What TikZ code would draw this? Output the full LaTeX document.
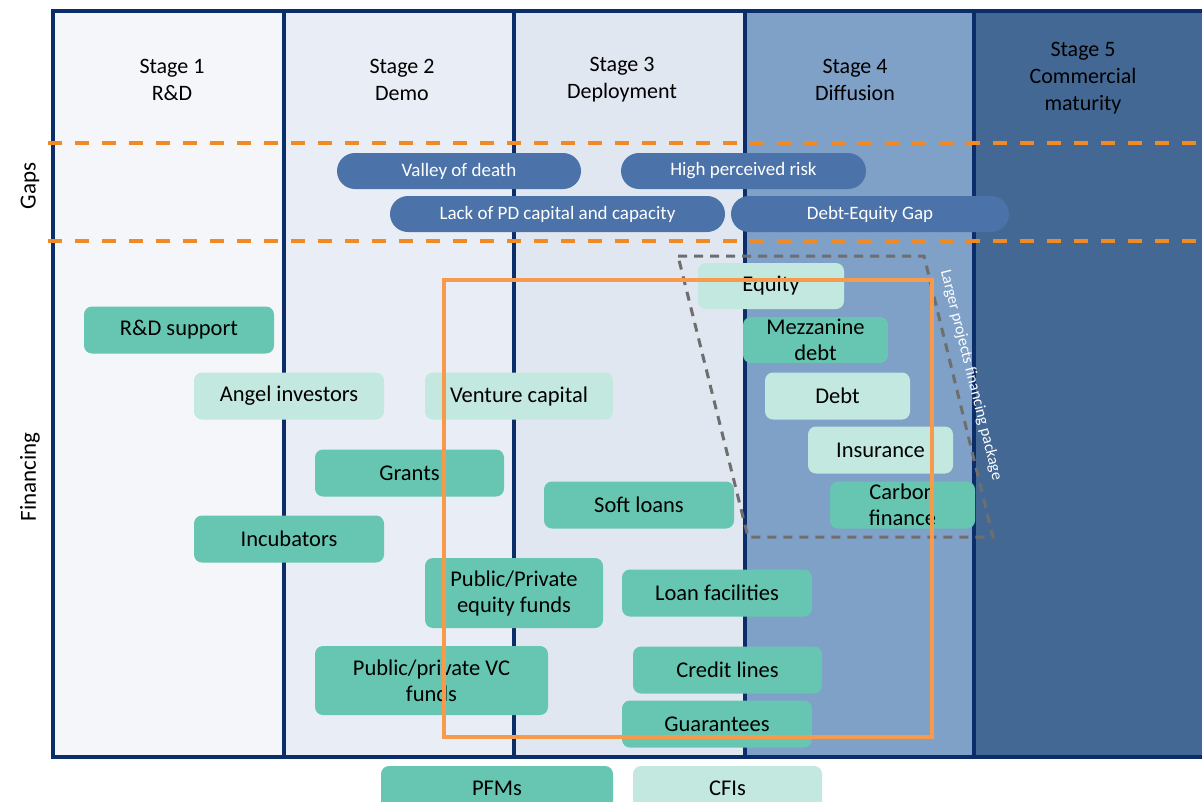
\documentclass[tikz,border=0pt]{standalone}
\usepackage{fontspec}
\setmainfont{Carlito}
\usetikzlibrary{shapes.geometric}

\definecolor{navy}{HTML}{0B2E6B}
\definecolor{colA}{HTML}{F4F6FA}
\definecolor{colB}{HTML}{E9EDF5}
\definecolor{colC}{HTML}{E1E7F1}
\definecolor{colD}{HTML}{7FA0C7}
\definecolor{colE}{HTML}{446894}
\definecolor{gapblue}{HTML}{4B73A9}
\definecolor{dashorange}{HTML}{F08A24}
\definecolor{frameorange}{HTML}{F79A4B}
\definecolor{pfmgreen}{HTML}{67C6B1}
\definecolor{cfigreen}{HTML}{C3E8DF}
\definecolor{dashgray}{HTML}{6E6E6E}

\tikzset{
  stagehdr/.style={align=center, font=\fontsize{22}{27}\selectfont},
  sidelabel/.style={rotate=90, font=\fontsize{23}{26}\selectfont},
  gapbox/.style={fill=gapblue, text=white, rounded corners=18pt,
    minimum height=36pt, inner sep=0pt, font=\fontsize{19}{22}\selectfont},
  finbox/.style={rounded corners=8pt, minimum height=47pt, inner sep=0pt,
    align=center, font=\fontsize{22.5}{26}\selectfont},
  pfm/.style={finbox, fill=pfmgreen},
  cfi/.style={finbox, fill=cfigreen},
  gapline/.style={dashorange, line width=4pt, dash pattern=on 14pt off 13pt},
  stageline/.style={navy, line width=3.2pt},
}

\begin{document}
\begin{tikzpicture}[x=1pt,y=-1pt]
\clip (0,0) rectangle (1202,801);
\fill[white] (0,0) rectangle (1202,801);

% stage columns
\fill[colA] (53,11) rectangle (284,757);
\fill[colB] (284,11) rectangle (514,757);
\fill[colC] (514,11) rectangle (745,757);
\fill[colD] (745,11) rectangle (974,757);
\fill[colE] (974,11) rectangle (1202,757);

% frame and stage dividers
\draw[stageline] (1202,11) -- (53,11) -- (53,757) -- (1202,757);
\foreach \xx in {284,514,745,974}
  \draw[stageline] (\xx,11) -- (\xx,757);

% stage headings
\node[stagehdr] (s1) at (172,80) {Stage 1\\R\&D};
\node[stagehdr] (s2) at (402,80) {Stage 2\\Demo};
\node[stagehdr] (s3) at (622,80) {Stage 3\\Deployment};
\node[stagehdr] (s4) at (855,80) {Stage 4\\Diffusion};
\node[stagehdr] (s5) at (1083,78) {Stage 5\\Commercial\\maturity};

% gap band limits
\draw[gapline] (48,143) -- (1202,143);
\draw[gapline] (48,241) -- (1202,241);

% row labels
\node[sidelabel] (gaps) at (30,186) {Gaps};
\node[sidelabel] (fin) at (30,477) {Financing};

% gaps
\node[gapbox, minimum width=244pt] (vod) at (459,171) {Valley of death};
\node[gapbox, minimum width=245pt] (hpr) at (743.5,171) {High perceived risk};
\node[gapbox, minimum width=335pt] (lack) at (557.5,214) {Lack of PD capital and capacity};
\node[gapbox, minimum width=278pt] (deg) at (870,214) {Debt-Equity Gap};

% financing instruments
\node[pfm, minimum width=190pt] (rd) at (179,330) {R\&D support};
\node[cfi, minimum width=190pt] (angel) at (289,396) {Angel investors};
\node[cfi, minimum width=188pt] (vc) at (519,396) {Venture capital};
\node[pfm, minimum width=189pt] (grants) at (409.5,473) {Grants};
\node[pfm, minimum width=190pt] (incub) at (289,539) {Incubators};
\node[pfm, minimum width=190pt] (soft) at (639,505) {Soft loans};
\node[pfm, minimum width=178pt, minimum height=70pt] (pef) at (514,593) {Public/Private\\equity funds};
\node[pfm, minimum width=190pt] (loanf) at (717,593) {Loan facilities};
\node[pfm, minimum width=233pt, minimum height=69pt] (vcf) at (431.5,680.5) {Public/private VC\\funds};
\node[pfm, minimum width=189pt] (credit) at (727.5,670) {Credit lines};
\node[pfm, minimum width=190pt] (guar) at (717,724) {Guarantees};
\node[cfi, minimum width=146pt, minimum height=46pt] (equity) at (771,286) {Equity};
\node[pfm, minimum width=145pt, minimum height=46pt] (mezz) at (815.5,340) {Mezzanine\\debt};
\node[cfi, minimum width=145pt] (debt) at (837.5,396) {Debt};
\node[cfi, minimum width=145pt] (ins) at (880.5,450) {Insurance};
\node[pfm, minimum width=145pt] (carbon) at (902.5,505) {Carbon\\finance};

% larger projects financing package
\draw[dashgray, line width=3pt, dash pattern=on 9pt off 7pt]
  (678,256) -- (924,256) -- (993,537) -- (748,537) -- cycle;
\node[rotate=-76, text=white, font=\fontsize{16}{18}\selectfont] (lpf)
  at (971,375) {Larger projects financing package};

% public finance focus frame
\draw[frameorange, line width=4pt] (444,280) rectangle (932,737);

% legend
\node[pfm, minimum width=232pt, minimum height=44pt] (legp) at (497,788) {PFMs};
\node[cfi, minimum width=189pt, minimum height=44pt] (legc) at (727.5,788) {CFIs};
\end{tikzpicture}
\end{document}
